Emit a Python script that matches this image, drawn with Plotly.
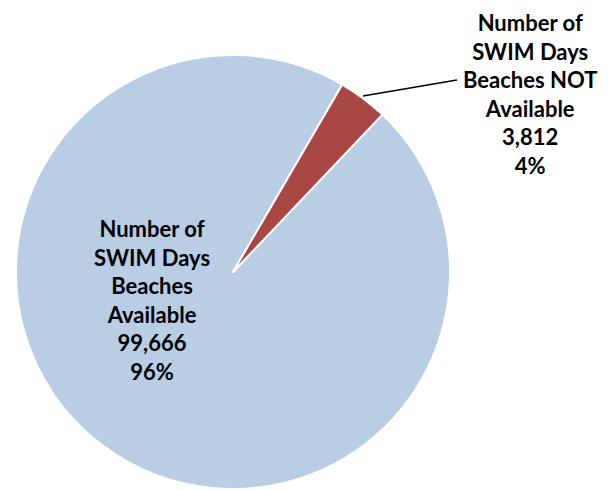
import plotly.graph_objects as go

labels = ["Number of<br>SWIM Days<br>Beaches<br>Available",
          "Number of<br>SWIM Days<br>Beaches NOT<br>Available"]
values = [99666, 3812]
colors = ["#B9CDE5", "#A94744"]

total = sum(values)
pcts = [round(v / total * 100) for v in values]

W, H = 610, 490
OFF = 8  # default page body margin


def px(x):
    return (x - OFF) / W


def py(y):
    return 1 - (y - OFF) / H


fig = go.Figure(go.Pie(
    labels=labels,
    values=values,
    sort=False,
    direction="clockwise",
    rotation=43.5,
    marker=dict(colors=colors, line=dict(color="white", width=2)),
    textinfo="none",
    hoverinfo="label+value+percent",
    showlegend=False,
    domain=dict(x=[px(16), px(450)], y=[py(489), py(55)]),
))

font = dict(family="Lato, Calibri, sans-serif", size=22, color="black")
label_pos = [(152, 300), (530, 94)]
for lab, v, p, (lx, ly) in zip(labels, values, pcts, label_pos):
    fig.add_annotation(
        x=px(lx), y=py(ly), xref="paper", yref="paper",
        text=f"<b>{lab}<br>{v:,}<br>{p}%</b>",
        showarrow=False, align="center", font=font,
        xanchor="center", yanchor="middle",
    )

# leader line for the small slice
fig.add_shape(type="line", xref="paper", yref="paper",
              x0=px(363), y0=py(96), x1=px(457), y1=py(80),
              line=dict(color="black", width=1.5))

fig.update_layout(
    width=W, height=H,
    margin=dict(l=0, r=0, t=0, b=0),
    paper_bgcolor="white", plot_bgcolor="white",
)
fig.write_html("out.html")
